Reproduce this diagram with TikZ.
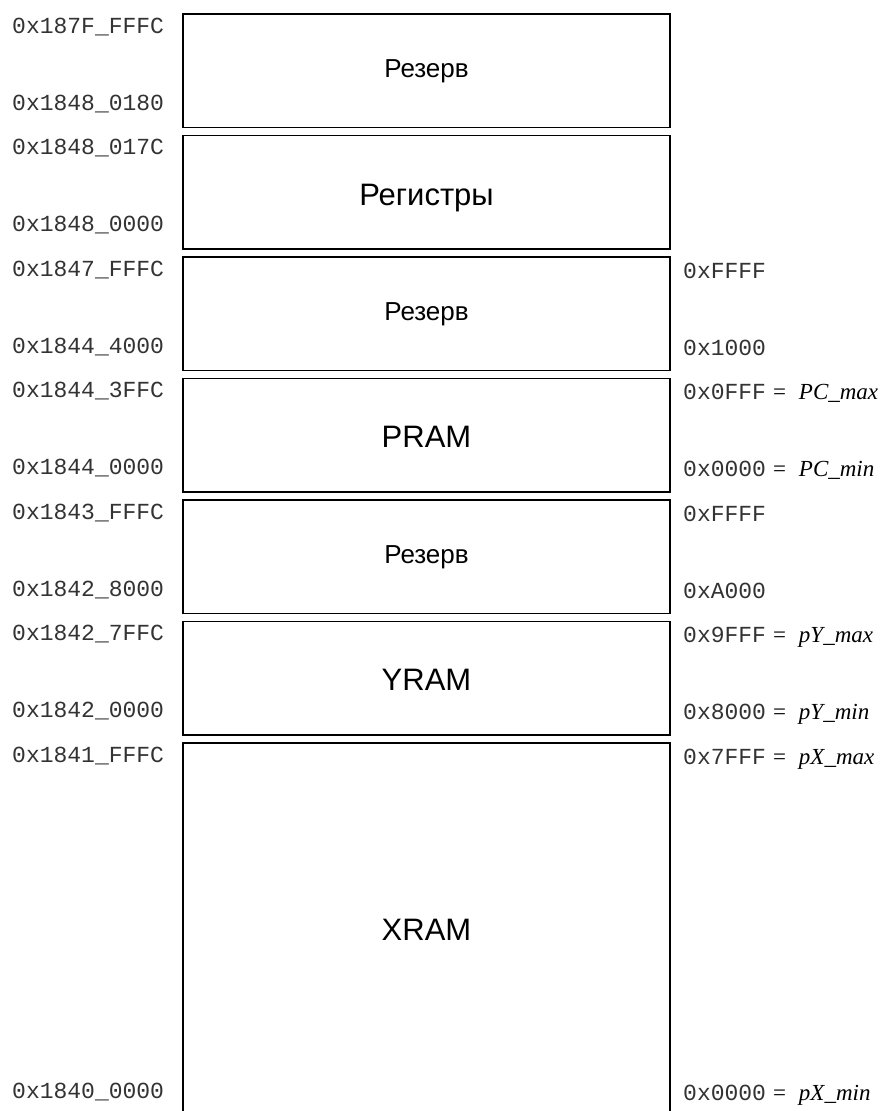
\documentclass[tikz,border=0pt]{standalone}
\usepackage{fontspec}
\setmainfont{Liberation Serif}
\newfontfamily\monof{Liberation Mono}
\newfontfamily\arialf{Liberation Sans}
\newcommand{\eqsign}{\hspace{7pt}=\hspace{13pt}}
\begin{document}
\begin{tikzpicture}[x=1pt,y=-1pt,
  membox/.style={draw=black,line width=1.6pt,minimum width=487pt,minimum height=113.5pt,inner sep=0pt,outer sep=0pt},
  addr/.style={anchor=base west,inner sep=0pt,text=black!80,font=\monof\fontsize{23}{26}\selectfont},
  raddr/.style={anchor=base west,inner sep=0pt,font=\fontsize{23}{26}\selectfont},
  small/.style={anchor=base,inner sep=0pt,font=\arialf\fontsize{26}{30}\selectfont},
  big/.style={anchor=base,inner sep=0pt,font=\arialf\fontsize{31}{36}\selectfont}]
\useasboundingbox (0,0) rectangle (882,1111);
\fill[white] (0,0) rectangle (882,1111);
% boxes
\node[membox] (b1) at (426.5,70.75) {};
\node[membox] (b2) at (426.5,192.25) {};
\node[membox] (b3) at (426.5,313.75) {};
\node[membox] (b4) at (426.5,435.25) {};
\node[membox] (b5) at (426.5,556.75) {};
\node[membox] (b6) at (426.5,678.25) {};
\coordinate (b7bl) at (183,1112);
\coordinate (b7tl) at (183,743);
\coordinate (b7tr) at (670,743);
\coordinate (b7br) at (670,1112);
\draw[line width=1.6pt,line join=miter] (b7bl) -- (b7tl) -- (b7tr) -- (b7br);
% box texts
\node[small] (t1) at (426.5,77) {Резерв};
\node[big]   (t2) at (426.5,205) {Регистры};
\node[small] (t3) at (426.5,320) {Резерв};
\node[big]   (t4) at (426.5,447) {PRAM};
\node[small] (t5) at (426.5,563) {Резерв};
\node[big]   (t6) at (426.5,690) {YRAM};
\node[big]   (t7) at (426.5,940) {XRAM};
% left addresses
\node[addr] (l1a) at (12,33)   {0x187F\_FFFC};
\node[addr] (l1b) at (12,110)  {0x1848\_0180};
\node[addr] (l2a) at (12,154.5) {0x1848\_017C};
\node[addr] (l2b) at (12,231.5) {0x1848\_0000};
\node[addr] (l3a) at (12,276)  {0x1847\_FFFC};
\node[addr] (l3b) at (12,353)  {0x1844\_4000};
\node[addr] (l4a) at (12,397.5) {0x1844\_3FFC};
\node[addr] (l4b) at (12,474.5) {0x1844\_0000};
\node[addr] (l5a) at (12,519)  {0x1843\_FFFC};
\node[addr] (l5b) at (12,596)  {0x1842\_8000};
\node[addr] (l6a) at (12,640.5) {0x1842\_7FFC};
\node[addr] (l6b) at (12,717.5) {0x1842\_0000};
\node[addr] (l7a) at (12,762)  {0x1841\_FFFC};
\node[addr] (l7b) at (12,1098) {0x1840\_0000};
% right addresses
\node[addr]  (r3a) at (683,278) {0xFFFF};
\node[addr]  (r3b) at (683,355) {0x1000};
\node[raddr] (r4a) at (683,399.5) {{\monof\color{black!80}0x0FFF}\eqsign\textit{PC\_max}};
\node[raddr] (r4b) at (683,476.5) {{\monof\color{black!80}0x0000}\eqsign\textit{PC\_min}};
\node[addr]  (r5a) at (683,521) {0xFFFF};
\node[addr]  (r5b) at (683,598) {0xA000};
\node[raddr] (r6a) at (683,642.5) {{\monof\color{black!80}0x9FFF}\eqsign\textit{pY\_max}};
\node[raddr] (r6b) at (683,719.5) {{\monof\color{black!80}0x8000}\eqsign\textit{pY\_min}};
\node[raddr] (r7a) at (683,764) {{\monof\color{black!80}0x7FFF}\eqsign\textit{pX\_max}};
\node[raddr] (r7b) at (683,1100) {{\monof\color{black!80}0x0000}\eqsign\textit{pX\_min}};
\end{tikzpicture}
\end{document}
